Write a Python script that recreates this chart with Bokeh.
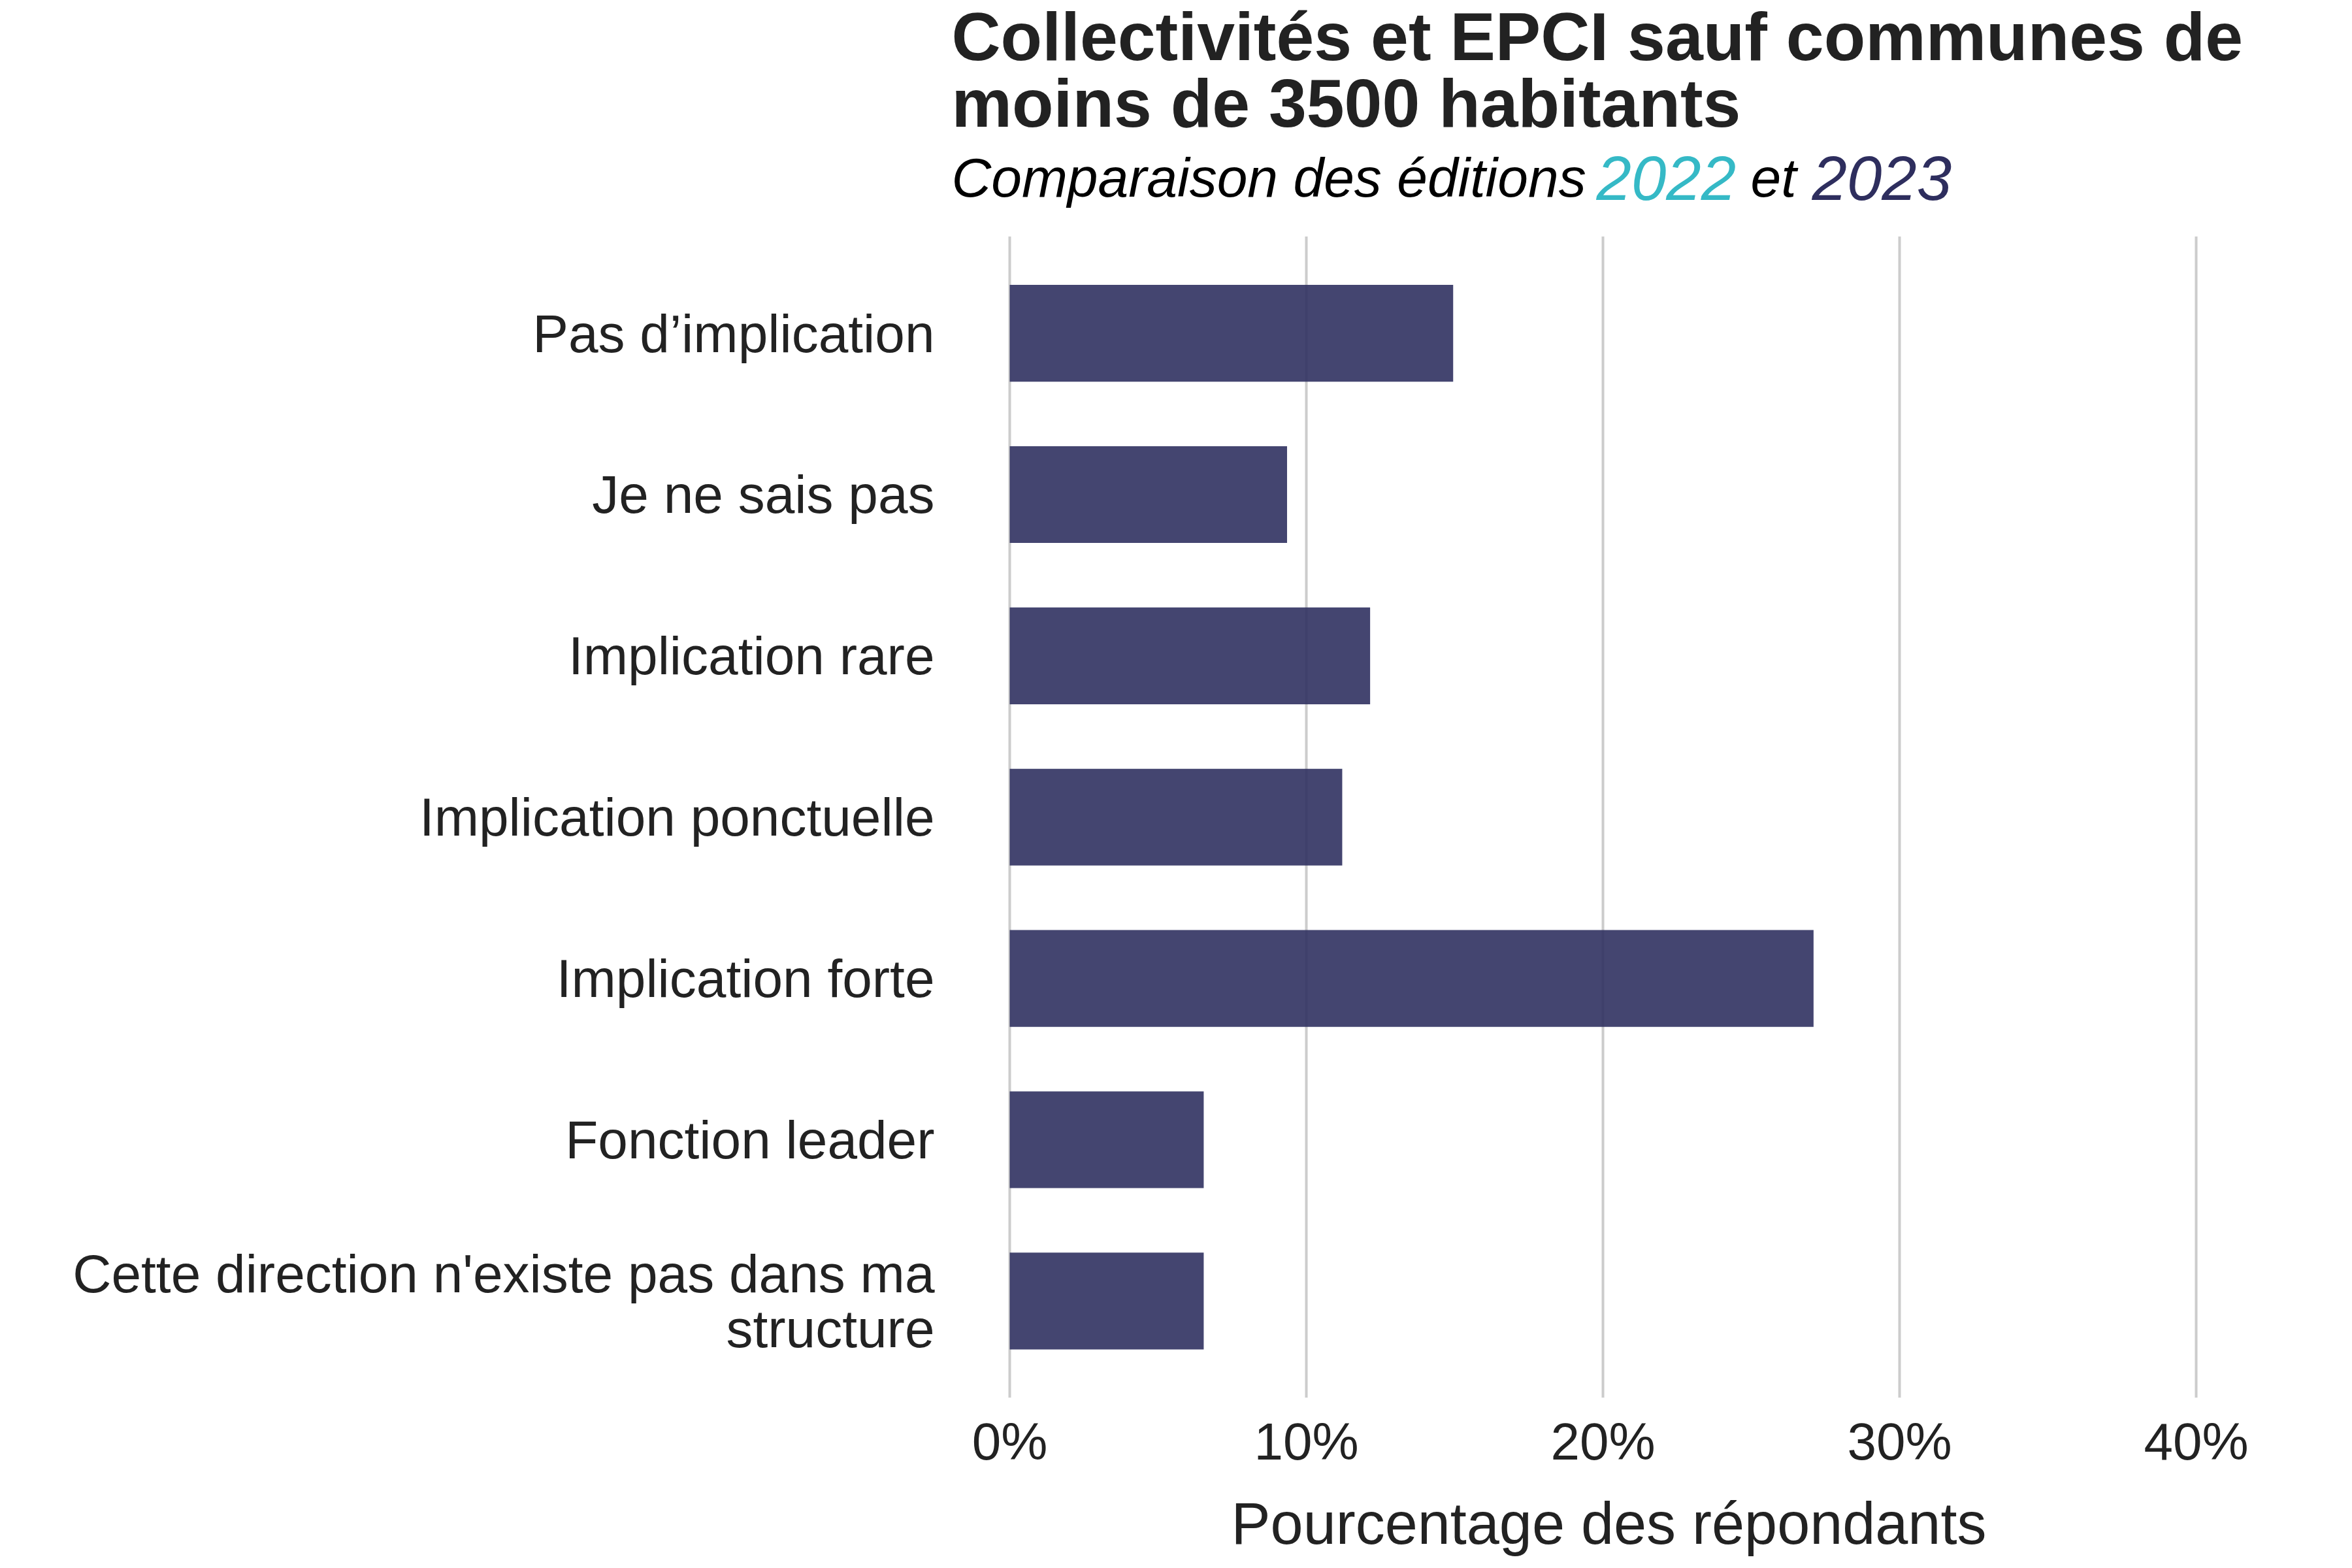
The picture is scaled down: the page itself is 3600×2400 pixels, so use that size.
from bokeh.plotting import figure
from bokeh.models import Range1d, FixedTicker, PrintfTickFormatter, Label
from bokeh.embed import file_html
from bokeh.resources import INLINE

# ---- data ----
categories = [
    "Pas d’implication",
    "Je ne sais pas",
    "Implication rare",
    "Implication ponctuelle",
    "Implication forte",
    "Fonction leader",
    "Cette direction n'existe pas dans ma\nstructure",
]
values_2023 = [14.95, 9.35, 12.15, 11.21, 27.10, 6.54, 6.54]
x_ticks = [0, 10, 20, 30, 40]

title_lines = ["Collectivités et EPCI sauf communes de", "moins de 3500 habitants"]
subtitle_parts = ["Comparaison des éditions", "2022", "et", "2023"]
x_label = "Pourcentage des répondants"

# ---- style ----
FONT = "Liberation Sans"
TXT = "#222222"
C2022 = "#35B9C6"
C2023 = "#2E2E5E"
BAR = "#303160"

W, H = 3584, 2384
PX_PER_PCT = 45.4
PX_PER_CAT = 247.8
LEFT, RIGHT, BOTTOM = 1440, 100, 237
ZERO_PX = 1545
x_start = (LEFT - ZERO_PX) / PX_PER_PCT
x_end = x_start + (W - LEFT - RIGHT) / PX_PER_PCT
y_bottom = 6.6
y_top = y_bottom - (H - BOTTOM) / PX_PER_CAT

positions = list(range(len(categories)))

p = figure(
    width=W, height=H,
    x_range=Range1d(x_start, x_end), y_range=Range1d(y_bottom, y_top),
    output_backend="svg", toolbar_location=None,
    min_border_left=LEFT, min_border_right=RIGHT,
    min_border_top=0, min_border_bottom=BOTTOM,
)
p.outline_line_color = None
p.background_fill_color = "white"
p.border_fill_color = "white"
p.grid.visible = False

# vertical grid lines limited to the panel
p.segment(x0=x_ticks, x1=x_ticks, y0=-0.6, y1=6.6,
          line_color="#cccccc", line_width=4)

p.hbar(y=positions, left=0, right=values_2023, height=0.6,
       fill_color=BAR, fill_alpha=0.9, line_color=None)

# x axis
xa = p.xaxis[0]
xa.ticker = FixedTicker(ticks=x_ticks)
xa.formatter = PrintfTickFormatter(format="%d%%")
xa.bounds = (-0.5, 41.1)
xa.axis_line_color = None
xa.major_tick_line_color = None
xa.minor_tick_line_color = None
xa.major_tick_out = 0
xa.major_tick_in = 0
xa.major_label_standoff = 22
xa.major_label_text_font = FONT
xa.major_label_text_font_size = "80px"
xa.major_label_text_color = TXT
xa.axis_label = x_label
xa.axis_label_text_font = FONT
xa.axis_label_text_font_size = "90px"
xa.axis_label_text_font_style = "normal"
xa.axis_label_text_color = TXT
xa.axis_label_standoff = 28

# y axis
ya = p.yaxis[0]
ya.ticker = FixedTicker(ticks=positions)
ya.major_label_overrides = {i: c for i, c in zip(positions, categories)}
ya.axis_line_color = None
ya.major_tick_line_color = None
ya.minor_tick_line_color = None
ya.major_tick_out = 0
ya.major_tick_in = 0
ya.major_label_standoff = 10
ya.major_label_text_font = FONT
ya.major_label_text_font_size = "82px"
ya.major_label_text_color = TXT
ya.major_label_text_line_height = 0.93

# titles (inside the frame area above the panel)
tx = (1456 - ZERO_PX) / PX_PER_PCT
def ypos(page_y):
    return y_top + page_y / PX_PER_CAT

p.add_layout(Label(x=tx, y=ypos(56), text=title_lines[0], text_font=FONT,
                   text_font_size="104px", text_font_style="bold",
                   text_color=TXT, text_baseline="alphabetic", text_align="left"))
p.add_layout(Label(x=tx, y=ypos(158), text=title_lines[1], text_font=FONT,
                   text_font_size="104px", text_font_style="bold",
                   text_color=TXT, text_baseline="alphabetic", text_align="left"))

sub_px = [1456, 2443, 2679, 2773]
sub_sizes = ["84px", "96px", "84px", "96px"]
sub_colors = ["black", C2022, "black", C2023]
for t, px, sz, col in zip(subtitle_parts, sub_px, sub_sizes, sub_colors):
    p.add_layout(Label(x=(px - ZERO_PX) / PX_PER_PCT, y=ypos(273), text=t,
                       text_font=FONT, text_font_size=sz, text_font_style="italic",
                       text_color=col, text_baseline="alphabetic", text_align="left"))

open("out.html", "w").write(file_html(p, INLINE))
